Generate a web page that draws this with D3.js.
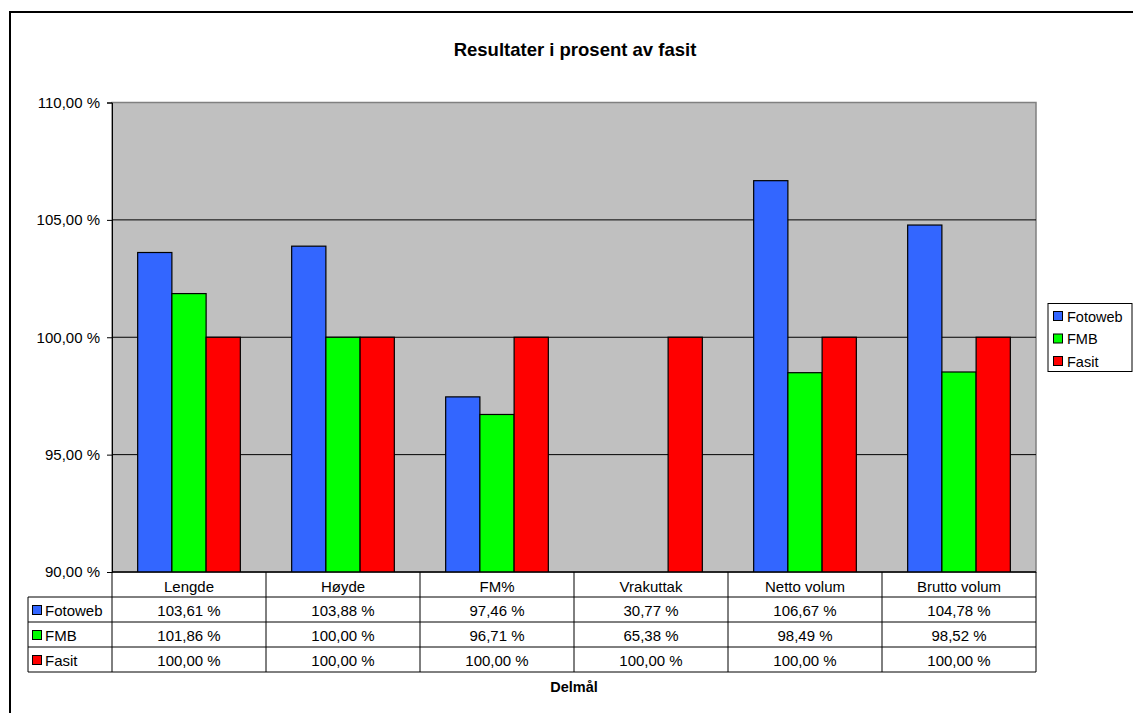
<!DOCTYPE html>
<html>
<head>
<meta charset="utf-8">
<script src="https://cdn.jsdelivr.net/npm/d3@7"></script>
<style>
  body { margin: 0; background: #fff; }
  svg { font-family: "Liberation Sans", Arial, sans-serif; }
</style>
</head>
<body>
<svg id="chart" width="1133" height="713"></svg>
<script>
var categories = ["Lengde", "Høyde", "FM%", "Vrakuttak", "Netto volum", "Brutto volum"]
var seriesNames = ["Fotoweb", "FMB", "Fasit"]
var fotoweb = [103.61, 103.88, 97.46, 30.77, 106.67, 104.78]
var fmb = [101.86, 100.00, 96.71, 65.38, 98.49, 98.52]
var fasit = [100.00, 100.00, 100.00, 100.00, 100.00, 100.00]
var yTicks = [90, 95, 100, 105, 110]
var colors = ["#3366ff", "#00ff00", "#ff0000"]

var seriesValues = [fotoweb, fmb, fasit]
var fmt = function (v) { return v.toFixed(2).replace(".", ",") + " %" }

var margin = { top: 102.5, left: 112, right: 1036, bottom: 572 }
var svg = d3.select("#chart")

// outer frame
svg.append("rect").attr("x", 10).attr("y", 12).attr("width", 1140).attr("height", 720)
  .attr("fill", "#fff").attr("stroke", "#000").attr("stroke-width", 2)

var x = d3.scaleBand().domain(categories).range([margin.left, margin.right])
var x1 = d3.scaleBand().domain(seriesNames).range([0, x.bandwidth()]).paddingOuter(0.75).paddingInner(0)
var y = d3.scaleLinear().domain([90, 110]).range([margin.bottom, margin.top])

svg.append("text").attr("x", 575).attr("y", 56).attr("text-anchor", "middle")
  .attr("font-size", 18.5).attr("font-weight", "bold").text("Resultater i prosent av fasit")

// plot background
svg.append("rect").attr("x", margin.left).attr("y", margin.top)
  .attr("width", margin.right - margin.left).attr("height", margin.bottom - margin.top)
  .attr("fill", "#c0c0c0").attr("stroke", "#808080").attr("stroke-width", 1.5)

// gridlines
svg.append("g").selectAll("line").data(yTicks.slice(1, -1)).enter().append("line")
  .attr("x1", margin.left).attr("x2", margin.right)
  .attr("y1", function (d) { return y(d) }).attr("y2", function (d) { return y(d) })
  .attr("stroke", "#000").attr("stroke-width", 1)

svg.append("clipPath").attr("id", "plotclip").append("rect")
  .attr("x", margin.left).attr("y", margin.top)
  .attr("width", margin.right - margin.left).attr("height", margin.bottom - margin.top)

var bars = svg.append("g").attr("clip-path", "url(#plotclip)")
seriesNames.forEach(function (s, si) {
  bars.selectAll(".bar" + si).data(seriesValues[si]).enter().append("rect")
    .attr("x", function (d, i) { return x(categories[i]) + x1(s) })
    .attr("y", function (d) { return y(d) })
    .attr("width", x1.bandwidth())
    .attr("height", function (d) { return Math.max(0, margin.bottom - y(d)) + 2 })
    .attr("fill", colors[si]).attr("stroke", "#000").attr("stroke-width", 1.2)
})

// y axis
var yAxis = svg.append("g").attr("transform", "translate(" + margin.left + ",0)")
  .call(d3.axisLeft(y).tickValues(yTicks).tickSize(5).tickPadding(7).tickFormat(fmt))
yAxis.select(".domain").attr("stroke", "#000")
yAxis.selectAll("text").attr("font-size", 15).attr("font-family", "Liberation Sans, Arial, sans-serif").attr("fill", "#000")
yAxis.selectAll("line").attr("stroke", "#000")

svg.append("line").attr("x1", margin.left).attr("x2", margin.right)
  .attr("y1", margin.bottom).attr("y2", margin.bottom).attr("stroke", "#000").attr("stroke-width", 1.5)

// data table
var rowH = 25
var tableTop = margin.bottom
var legendLeft = 28
var t = svg.append("g")
t.selectAll(".hdr").data(categories).enter().append("text")
  .attr("x", function (d) { return x(d) + x.bandwidth() / 2 })
  .attr("y", tableTop + 19.5).attr("text-anchor", "middle").attr("font-size", 15).text(function (d) { return d })

seriesNames.forEach(function (s, si) {
  var ry = tableTop + rowH * (si + 1)
  t.selectAll(".c" + si).data(seriesValues[si]).enter().append("text")
    .attr("x", function (d, i) { return x(categories[i]) + x.bandwidth() / 2 })
    .attr("y", ry + 19).attr("text-anchor", "middle").attr("font-size", 15).text(fmt)
  t.append("rect").attr("x", legendLeft + 4.5).attr("y", ry + 8.5).attr("width", 9).attr("height", 9)
    .attr("fill", colors[si]).attr("stroke", "#000").attr("stroke-width", 1)
  t.append("text").attr("x", legendLeft + 17).attr("y", ry + 19).attr("font-size", 15).text(s)
})

var gridStroke = "#000"
// horizontal rules
for (var r = 1; r <= 4; r++) {
  t.append("line").attr("x1", legendLeft).attr("x2", margin.right)
    .attr("y1", tableTop + rowH * r).attr("y2", tableTop + rowH * r).attr("stroke", gridStroke).attr("stroke-width", 1)
}
// vertical rules
categories.concat([null]).forEach(function (c, i) {
  var xx = c === null ? margin.right : x(c)
  t.append("line").attr("x1", xx).attr("x2", xx).attr("y1", tableTop).attr("y2", tableTop + rowH * 4)
    .attr("stroke", gridStroke).attr("stroke-width", 1)
})
t.append("line").attr("x1", legendLeft).attr("x2", legendLeft).attr("y1", tableTop + rowH).attr("y2", tableTop + rowH * 4)
  .attr("stroke", gridStroke).attr("stroke-width", 1)

svg.append("text").attr("x", 574).attr("y", 692).attr("text-anchor", "middle")
  .attr("font-size", 14.5).attr("font-weight", "bold").text("Delmål")

// legend
var lg = svg.append("g")
lg.append("rect").attr("x", 1048).attr("y", 303.5).attr("width", 84).attr("height", 68)
  .attr("fill", "#fff").attr("stroke", "#000").attr("stroke-width", 1)
seriesNames.forEach(function (s, si) {
  var ly = 316 + si * 22.5
  lg.append("rect").attr("x", 1053.5).attr("y", ly - 4.5).attr("width", 9).attr("height", 9)
    .attr("fill", colors[si]).attr("stroke", "#000").attr("stroke-width", 1)
  lg.append("text").attr("x", 1067).attr("y", ly + 5.5).attr("font-size", 14.5).text(s)
})
</script>
</body>
</html>
